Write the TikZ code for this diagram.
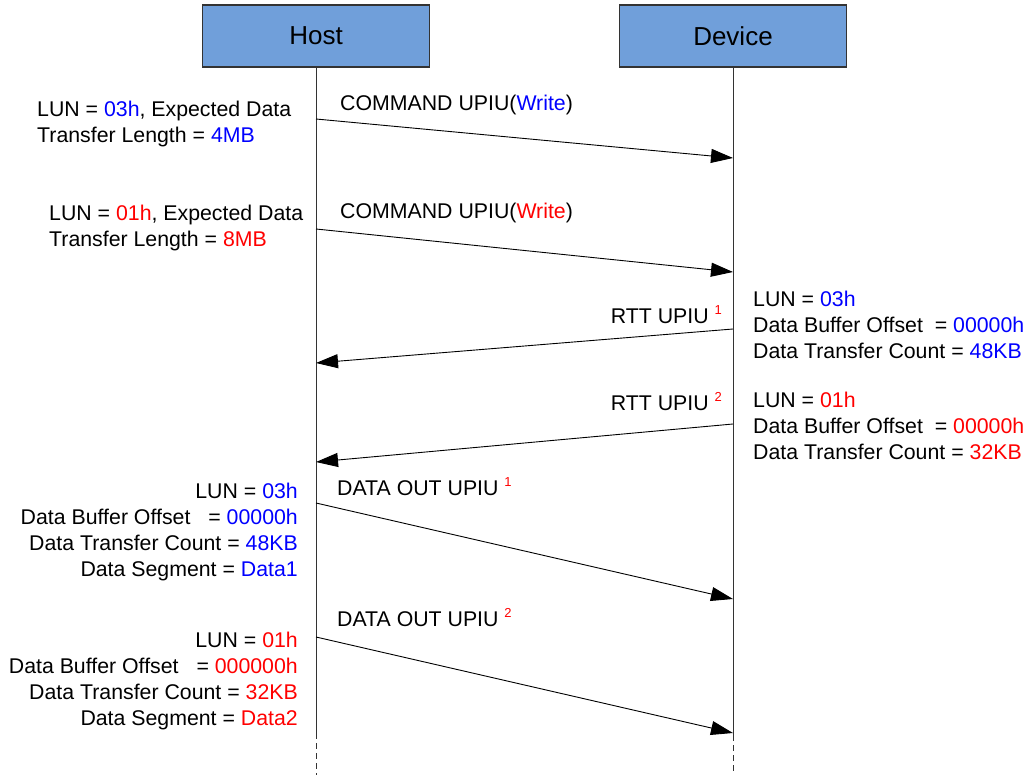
\documentclass[tikz,border=0pt]{standalone}
\usepackage{fontspec}
\setmainfont{Liberation Sans}
\usepackage{xcolor}
\usepackage{tikz}
\usetikzlibrary{arrows.meta}
\definecolor{boxfill}{HTML}{709FDA}
\definecolor{lunblue}{HTML}{0000FF}
\definecolor{lunred}{HTML}{FF0000}
\definecolor{wire}{HTML}{333333}
\newcommand{\upiunum}[1]{\raisebox{9pt}{\fontsize{13}{13}\selectfont\textcolor{lunred}{#1}}}
\tikzset{
  actor/.style={draw=wire, fill=boxfill, line width=1.2pt, minimum width=227pt, minimum height=62pt, font=\fontsize{26}{30}\selectfont},
  life/.style={draw=wire, line width=0.9pt},
  lifeend/.style={draw=wire, line width=0.9pt, dash pattern=on 6pt off 4pt},
  msg/.style={draw=black, line width=0.9pt, -{Triangle[length=22pt,width=14pt]}},
  lab/.style={inner sep=0pt, font=\fontsize{21.3}{26}\selectfont}
}

\begin{document}
\begin{tikzpicture}[x=1pt, y=-1pt]
  \useasboundingbox (0,0) rectangle (1031,775);

  \node[actor] (host) at (316,36) {Host};
  \node[actor] (device) at (733,36) {Device};

  % lifelines
  \coordinate (hostend) at (316,733);
  \coordinate (hostfoot) at (316,775);
  \coordinate (devend) at (733,735);
  \coordinate (devfoot) at (733,775);
  \draw[life] (host.south) -- (hostend);
  \draw[lifeend] (hostend) -- (hostfoot);
  \draw[life] (device.south) -- (devend);
  \draw[lifeend] (devend) -- (devfoot);

  % message ends
  \coordinate (h1) at (316,119); \coordinate (d1) at (733,158);
  \coordinate (h2) at (316,229); \coordinate (d2) at (733,272);
  \coordinate (d3) at (733,329); \coordinate (h3) at (316,363);
  \coordinate (d4) at (733,424); \coordinate (h4) at (316,462);
  \coordinate (h5) at (316,503); \coordinate (d5) at (733,599);
  \coordinate (h6) at (316,637); \coordinate (d6) at (733,733);

  \draw[msg] (h1) -- (d1);
  \draw[msg] (h2) -- (d2);
  \draw[msg] (d3) -- (h3);
  \draw[msg] (d4) -- (h4);
  \draw[msg] (h5) -- (d5);
  \draw[msg] (h6) -- (d6);

  % message labels
  \node[lab, anchor=base west] (cmd1) at (340,111) {COMMAND UPIU(\textcolor{lunblue}{Write})};
  \node[lab, anchor=base west] (cmd2) at (340,219) {COMMAND UPIU(\textcolor{lunred}{Write})};
  \node[lab, anchor=base east] (rtt1) at (722,324) {RTT UPIU \upiunum{1}};
  \node[lab, anchor=base east] (rtt2) at (722,410) {RTT UPIU \upiunum{2}};
  \node[lab, anchor=base west] (out1) at (337,495) {DATA OUT UPIU \upiunum{1}};
  \node[lab, anchor=base west] (out2) at (337,626) {DATA OUT UPIU \upiunum{2}};

  % parameter blocks (base = last line)
  \node[lab, anchor=base west, align=left] (cmdinfo1) at (37,143)
    {LUN = \textcolor{lunblue}{03h}, Expected Data\\Transfer Length = \textcolor{lunblue}{4MB}};
  \node[lab, anchor=base west, align=left] (cmdinfo2) at (49,247)
    {LUN = \textcolor{lunred}{01h}, Expected Data\\Transfer Length = \textcolor{lunred}{8MB}};
  \node[lab, anchor=base west, align=left] (rttinfo1) at (753,359)
    {LUN = \textcolor{lunblue}{03h}\\Data Buffer Offset\hspace{6pt} = \textcolor{lunblue}{00000h}\\Data Transfer Count = \textcolor{lunblue}{48KB}};
  \node[lab, anchor=base west, align=left] (rttinfo2) at (753,460)
    {LUN = \textcolor{lunred}{01h}\\Data Buffer Offset\hspace{6pt} = \textcolor{lunred}{00000h}\\Data Transfer Count = \textcolor{lunred}{32KB}};
  \node[lab, anchor=base east, align=right] (outinfo1) at (298,576)
    {LUN = \textcolor{lunblue}{03h}\\Data Buffer Offset\hspace{12pt} = \textcolor{lunblue}{00000h}\\Data Transfer Count = \textcolor{lunblue}{48KB}\\Data Segment = \textcolor{lunblue}{Data1}};
  \node[lab, anchor=base east, align=right] (outinfo2) at (298,725)
    {LUN = \textcolor{lunred}{01h}\\Data Buffer Offset\hspace{12pt} = \textcolor{lunred}{000000h}\\Data Transfer Count = \textcolor{lunred}{32KB}\\Data Segment = \textcolor{lunred}{Data2}};
\end{tikzpicture}
\end{document}
